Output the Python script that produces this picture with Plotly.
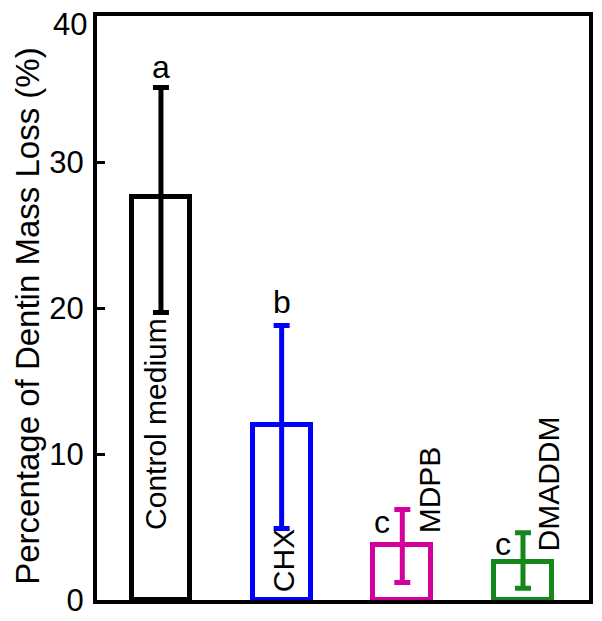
import plotly.graph_objects as go

# ---- data ----
groups = ["Control medium", "CHX", "MDPB", "DMADDM"]
means = [27.6, 12.0, 3.8, 2.6]
err_plus = [7.5, 6.8, 2.4, 2.0]
err_minus = [7.9, 7.1, 2.6, 1.8]
letters = ["a", "b", "c", "c"]
y_ticks = [0, 10, 20, 30, 40]
y_title = "Percentage of Dentin Mass Loss (%)"

colors = ["#000000", "#0000FF", "#D4009B", "#14881A"]
FONT = "Liberation Sans, Arial, sans-serif"

x = list(range(len(groups)))

fig = go.Figure()
fig.add_trace(go.Bar(
    x=x, y=means, width=0.48,
    marker=dict(color="rgba(255,255,255,0)", line=dict(color=colors, width=5)),
    showlegend=False,
))
for i in x:
    fig.add_trace(go.Scatter(
        x=[i], y=[means[i]], mode="markers", marker=dict(size=1, color=colors[i], opacity=0),
        error_y=dict(type="data", symmetric=False, array=[err_plus[i]], arrayminus=[err_minus[i]],
                     thickness=5, width=8, color=colors[i]),
        showlegend=False, hoverinfo="skip",
    ))

# letter annotations (styling offsets in px)
letter_shift = [(0, 1), (0, 4), (-20, -33), (-20, -31)]
for i, (lt, (dx, dy)) in enumerate(zip(letters, letter_shift)):
    fig.add_annotation(x=i, y=means[i] + err_plus[i], text=lt, showarrow=False,
                       xanchor="center", yanchor="bottom", xshift=dx, yshift=dy,
                       font=dict(size=32, color="black", family=FONT))

# group name annotations, vertical
name_base = [0, 0, means[2], means[3]]
name_shift = [(-6, 68), (2, 6), (27, 9), (26, 9)]
for i, (nm, (dx, dy)) in enumerate(zip(groups, name_shift)):
    fig.add_annotation(x=i, y=name_base[i], text=nm, showarrow=False, textangle=-90,
                       xanchor="center", yanchor="bottom", xshift=dx, yshift=dy,
                       font=dict(size=30, color="black", family=FONT))

# top tick label drawn slightly below its tick so it stays on the page
top_tick = y_ticks[-1]
fig.add_annotation(x=0, xref="paper", y=top_tick, yref="y", text=str(top_tick),
                   showarrow=False, xanchor="right", yanchor="middle", xshift=-8, yshift=-8,
                   font=dict(size=31, color="black", family=FONT))

# y-axis title
fig.add_annotation(x=0, xref="paper", y=0.485, yref="paper", text=y_title,
                   showarrow=False, textangle=-90, xanchor="center", yanchor="middle",
                   xshift=-69, font=dict(size=33, color="black", family=FONT))

# page body has an 8px default margin: size the figure to fit the window
fig.update_layout(
    width=594, height=613,
    margin=dict(l=89, r=13, t=8, b=21),
    paper_bgcolor="white", plot_bgcolor="white",
    font=dict(family=FONT, color="black"),
    bargap=0,
)
fig.update_xaxes(range=[-0.53, 3.547], showticklabels=False, ticks="", showgrid=False,
                 zeroline=False, showline=True, linecolor="black", linewidth=4, mirror=True,
                 automargin=False)
fig.update_yaxes(range=[0, 40], tickvals=y_ticks,
                 ticktext=[str(v) for v in y_ticks[:-1]] + [""],
                 ticks="inside", ticklen=8, tickwidth=3, tickcolor="black",
                 tickfont=dict(size=31, family=FONT, color="black"),
                 ticklabeloverflow="allow", ticklabelstandoff=3,
                 showgrid=False, zeroline=False, showline=True, linecolor="black",
                 linewidth=4, mirror=True, automargin=False)

fig.write_html("out.html")
